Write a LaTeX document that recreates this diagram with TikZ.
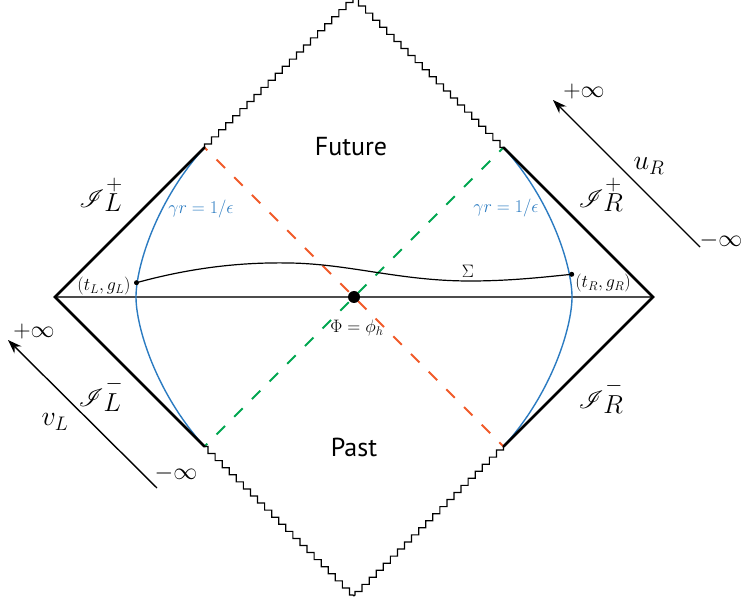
\RequirePackage{fix-cm}
\documentclass[tikz,border=0pt]{standalone}
\usepackage{fontspec}
\usepackage{mathrsfs}
\newfontfamily\labelsans{PT Sans}
\usetikzlibrary{decorations.pathmorphing,arrows.meta}
\definecolor{arcblue}{HTML}{2B7BC1}
\definecolor{dashred}{HTML}{F15A29}
\definecolor{dashgreen}{HTML}{00A650}
\newcommand{\scrilab}[2]{\mbox{\fontsize{24}{28}\selectfont$\mathscr{I}$}^{\kern2pt\raisebox{2pt}{\fontsize{22}{24}\selectfont$#1$}}_{\mbox{\fontsize{26}{28}\selectfont$#2$}}}
\tikzset{
  edge/.style={line width=2.8pt, line cap=round, line join=miter},
  sing/.style={line width=1.2pt, decorate, decoration={zigzag, segment length=10pt, amplitude=2.5pt}},
  bdry/.style={arcblue, line width=1.4pt},
  horiz/.style={line width=1.8pt, dash pattern=on 12pt off 13pt, dash phase=8pt},
  coordarrow/.style={line width=1.4pt, -{Stealth[length=14pt,width=10pt]}},
  small/.style={font=\fontsize{18}{20}\selectfont},
  scri/.style={inner sep=1pt},
  inf/.style={font=\fontsize{24}{28}\selectfont},
  coordlab/.style={font=\fontsize{28}{32}\selectfont},
  region/.style={font=\fontsize{26}{30}\selectfont\labelsans},
  dot/.style={circle, fill=black, inner sep=0pt, minimum size=#1},
}
\begin{document}
\begin{tikzpicture}[x=1pt,y=-1pt]
\useasboundingbox (0,0) rectangle (742,609);
% corners
\coordinate (L) at (55,297);
\coordinate (R) at (653,297);
\coordinate (T) at (354,-2);
\coordinate (B) at (354,596);
\coordinate (TLm) at (204.5,147.5);
\coordinate (TRm) at (503.5,147.5);
\coordinate (BLm) at (204.5,446.5);
\coordinate (BRm) at (503.5,446.5);
\coordinate (lw) at (136,297);
\coordinate (rw) at (572,297);
% horizontal slice
\draw[line width=1.2pt, black!70] (L) -- (R);
% dashed horizons
\draw[horiz, dashred] (TLm) -- (BRm);
\draw[horiz, dashgreen] (BLm) -- (TRm);
% blue cutoff surfaces
\draw[bdry] (TLm) .. controls (156,201) and (136,267) .. (lw) .. controls (136,327) and (156,393) .. (BLm);
\draw[bdry] (TRm) .. controls (552,201) and (572,267) .. (rw) .. controls (572,327) and (552,393) .. (BRm);
% outer boundaries
\draw[edge] (TLm) -- (L) -- (BLm);
\draw[edge] (TRm) -- (R) -- (BRm);
% singularities
\draw[sing] (TLm) -- (T);
\draw[sing] (TRm) -- (T);
\draw[sing] (BLm) -- (B);
\draw[sing] (BRm) -- (B);
% Sigma slice
\node[dot=5pt] (tL) at (136.5,282.7) {};
\node[dot=5pt] (tR) at (571.7,274.3) {};
\draw[line width=1.2pt] (tL.center) .. controls (190,268) and (240,262) .. (290,263) .. controls (350,264) and (400,281) .. (470,281) .. controls (510,281) and (545,277) .. (tR.center);
\node[dot=12pt] (C) at (354,297) {};
% labels
\node[region] (fut) at (351,147) {Future};
\node[region] (past) at (354,447) {Past};
\node[small] (phi) at (357,328) {$\Phi=\phi_h$};
\node[small] (sig) at (468,271) {$\Sigma$};
\node[small] (tgL) at (104,286) {$(t_L,g_L)$};
\node[small] (tgR) at (603,283) {$(t_R,g_R)$};
\node[small, arcblue] (gl) at (201,209) {$\gamma r=1/\epsilon$};
\node[small, arcblue] (gr) at (506,208) {$\gamma r=1/\epsilon$};
\node[scri] (sLp) at (101,195) {$\scrilab{+}{L}$};
\node[scri] (sRp) at (601,195) {$\scrilab{+}{R}$};
\node[scri] (sLm) at (101,394) {$\scrilab{-}{L}$};
\node[scri] (sRm) at (601,396) {$\scrilab{-}{R}$};
% coordinate arrows
\coordinate (uRs) at (700,247);
\coordinate (uRe) at (553,100);
\draw[coordarrow] (uRs) -- (uRe);
\coordinate (vLs) at (157,488);
\coordinate (vLe) at (8,340);
\draw[coordarrow] (vLs) -- (vLe);
\node[inf] (pinfR) at (584,92) {$+\infty$};
\node[inf] (minfR) at (721,241) {$-\infty$};
\node[coordlab] (uR) at (649,166) {$u_R$};
\node[inf] (pinfL) at (34,332) {$+\infty$};
\node[inf] (minfL) at (176,474) {$-\infty$};
\node[coordlab] (vL) at (55,422) {$v_L$};
\end{tikzpicture}
\end{document}
